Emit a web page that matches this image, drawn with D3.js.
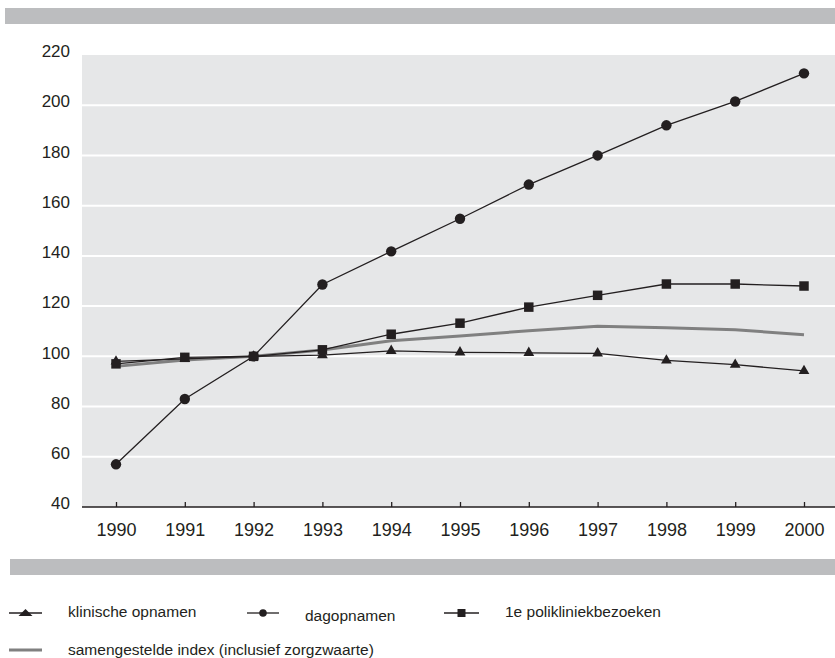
<!DOCTYPE html>
<html>
<head>
<meta charset="utf-8">
<script src="https://cdn.jsdelivr.net/npm/d3@7"></script>
<style>
  html, body { margin: 0; padding: 0; background: #fff; }
  svg { display: block; font-family: "Liberation Sans", Arial, sans-serif; }
</style>
</head>
<body>
<svg id="chart" width="835" height="658"></svg>
<script>
const years = ["1990","1991","1992","1993","1994","1995","1996","1997","1998","1999","2000"];
const yTicks = [40, 60, 80, 100, 120, 140, 160, 180, 200, 220];
const klinischeOpnamen = [98, 99, 100, 100.5, 102.2, 101.6, 101.4, 101.2, 98.4, 96.7, 94.2];
const dagopnamen = [57, 83, 100, 128.6, 141.8, 154.8, 168.4, 180, 192, 201.5, 212.7];
const polikliniekbezoeken = [97, 99.6, 100, 102.6, 108.8, 113.2, 119.6, 124.3, 128.8, 128.8, 128];
const samengesteldeIndex = [96, 98.5, 100, 102.5, 106.2, 108.1, 110.2, 112, 111.4, 110.6, 108.6];
const legendLabels = ["klinische opnamen", "dagopnamen", "1e polikliniekbezoeken", "samengestelde index (inclusief zorgzwaarte)"];

const svg = d3.select("#chart");
const plotLeft = 82, plotRight = 835, plotTop = 55, plotBottom = 507;

const x = d3.scalePoint().domain(years).range([116, 804]);
const y = d3.scaleLinear().domain([40, 220]).range([plotBottom, plotTop]);

// top and bottom decorative bars
svg.append("rect").attr("x", 5).attr("y", 8).attr("width", 830).attr("height", 16).attr("fill", "#bcbdbf");
svg.append("rect").attr("x", 10).attr("y", 559).attr("width", 825).attr("height", 16).attr("fill", "#bcbdbf");

// plot background
svg.append("rect").attr("x", plotLeft).attr("y", plotTop)
  .attr("width", plotRight - plotLeft).attr("height", plotBottom - plotTop).attr("fill", "#e6e7e8");

// gridlines
svg.append("g").selectAll("line").data(yTicks.filter(d => d > 40 && d < 220)).join("line")
  .attr("x1", plotLeft).attr("x2", plotRight)
  .attr("y1", d => y(d)).attr("y2", d => y(d))
  .attr("stroke", "#fff").attr("stroke-width", 2);

// y axis labels
const yAxis = d3.axisLeft(y).tickValues(yTicks).tickSize(0).tickPadding(0);
const yg = svg.append("g").attr("transform", `translate(70,0)`).call(yAxis);
yg.select(".domain").remove();
yg.selectAll("text").attr("font-size", 17).attr("fill", "#231f20").attr("dy", "0.1em")
  .attr("font-family", "'Liberation Sans', Arial, sans-serif");

// x axis
const xAxis = d3.axisBottom(x).tickSizeInner(-5).tickSizeOuter(0).tickPadding(16);
const xg = svg.append("g").attr("transform", `translate(0,${plotBottom})`).call(xAxis);
xg.select(".domain").attr("d", `M${plotLeft},0H${plotRight}`).attr("stroke", "#231f20").attr("stroke-width", 1.3);
xg.selectAll(".tick line").attr("stroke", "#231f20").attr("stroke-width", 1.3);
xg.selectAll("text").attr("font-size", 18).attr("fill", "#231f20")
  .attr("font-family", "'Liberation Sans', Arial, sans-serif");

const line = d3.line().x((d, i) => x(years[i])).y(d => y(d));
const ink = "#231f20";

// composite index (gray)
svg.append("path").datum(samengesteldeIndex).attr("d", line)
  .attr("fill", "none").attr("stroke", "#808080").attr("stroke-width", 3);

// series lines
[klinischeOpnamen, polikliniekbezoeken, dagopnamen].forEach(s => {
  svg.append("path").datum(s).attr("d", line)
    .attr("fill", "none").attr("stroke", ink).attr("stroke-width", 1.3);
});

const triSym = d3.symbol().type(d3.symbolTriangle).size(50);
const sqSym = d3.symbol().type(d3.symbolSquare).size(90);
const circSym = d3.symbol().type(d3.symbolCircle).size(85);

function markers(data, sym) {
  svg.append("g").selectAll("path").data(data).join("path")
    .attr("transform", (d, i) => `translate(${x(years[i])},${y(d)})`)
    .attr("d", sym).attr("fill", ink);
}
markers(klinischeOpnamen, triSym);
markers(polikliniekbezoeken, sqSym);
markers(dagopnamen, circSym);

// legend
const legTri = "M-7,3L7,3L0,-4Z";
const legSq = d3.symbol().type(d3.symbolSquare).size(64)();
const legCirc = d3.symbol().type(d3.symbolCircle).size(45)();
const lg = svg.append("g").attr("font-size", 15.5).attr("fill", ink);
function legendItem(x1, x2, yy, sym, tx, ty, label, gray) {
  lg.append("line").attr("x1", x1).attr("x2", x2).attr("y1", yy).attr("y2", yy)
    .attr("stroke", gray ? "#808080" : ink).attr("stroke-width", gray ? 3 : 1.3);
  if (sym) lg.append("path").attr("transform", `translate(${(x1 + x2) / 2},${yy})`).attr("d", sym).attr("fill", ink);
  lg.append("text").attr("x", tx).attr("y", ty).attr("dy", "0.35em").text(label);
}
legendItem(9, 42, 613, legTri, 68, 612, legendLabels[0]);
legendItem(247, 279, 613, legCirc, 305, 616, legendLabels[1]);
legendItem(444, 479, 613, legSq, 505, 612, legendLabels[2]);
legendItem(9, 42, 650, null, 68, 650, legendLabels[3], true);
</script>
</body>
</html>
